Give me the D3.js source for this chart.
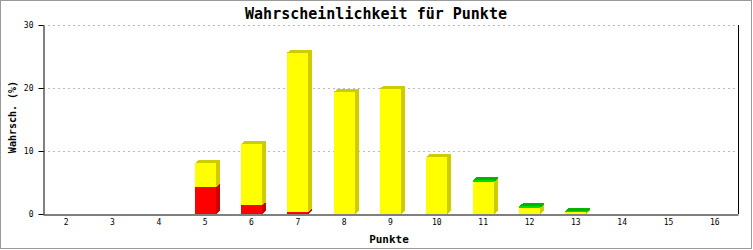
<!DOCTYPE html>
<html>
<head>
<meta charset="utf-8">
<script src="https://cdn.jsdelivr.net/npm/d3@7"></script>
<style>
  body { margin: 0; background: #fff; }
  svg { display: block; }
  text { font-family: "DejaVu Sans Mono", "Liberation Mono", monospace; }
</style>
</head>
<body>
<svg width="753" height="250"></svg>
<script>
const punkte = ["2", "3", "4", "5", "6", "7", "8", "9", "10", "11", "12", "13", "14", "15", "16"];
const rot = [0, 0, 0, 4.3, 1.4, 0.3, 0, 0, 0, 0, 0, 0, 0, 0, 0];
const gelb = [0, 0, 0, 3.8, 9.7, 25.3, 19.4, 19.9, 9.05, 5.1, 1.0, 0.25, 0, 0, 0];
const gruen = [0, 0, 0, 0, 0, 0, 0, 0, 0, 0.3, 0.25, 0.22, 0, 0, 0];
const yTicks = [0, 10, 20, 30];

const series = [
    { values: rot, front: "#ff0000", dark: "#cc0000" },
    { values: gelb, front: "#ffff00", dark: "#cccc00" },
    { values: gruen, front: "#00dd00", dark: "#00b400" }
];

const svg = d3.select("svg");
const plotL = 43, plotR = 738, plotT = 25, plotB = 214;

svg.append("rect")
   .attr("x", 0.5).attr("y", 0.5)
   .attr("width", 751).attr("height", 248)
   .attr("fill", "none")
   .attr("stroke", "#9a9a9a");

const x = d3.scaleBand().domain(punkte).range([plotL, plotR]).padding(0);
const y = d3.scaleLinear().domain([0, 30]).range([plotB, plotT]);

// grid
svg.append("g").selectAll("line")
   .data(yTicks.filter(t => t > 0))
   .join("line")
   .attr("x1", plotL).attr("x2", plotR)
   .attr("y1", d => Math.round(y(d)) + 0.5)
   .attr("y2", d => Math.round(y(d)) + 0.5)
   .attr("stroke", "#bbbbbb")
   .attr("stroke-dasharray", "2,3");

// stacked 3d bars
const barW = 21, dx = 4, dy = 3;
const bars = svg.append("g").attr("shape-rendering", "crispEdges");

punkte.forEach((p, i) => {
    let base = 0;
    const x0 = Math.round(x(p) + x.bandwidth() / 2 - barW / 2);
    const x1 = x0 + barW;
    series.forEach(s => {
        const v = s.values[i];
        if (v <= 0) return;
        const y0 = y(base), y1 = y(base + v);
        base += v;
        // side face
        bars.append("polygon")
            .attr("points", [[x1, y0], [x1 + dx, y0 - dy], [x1 + dx, y1 - dy], [x1, y1]].join(" "))
            .attr("fill", s.dark);
        // top face
        bars.append("polygon")
            .attr("points", [[x0, y1], [x0 + dx, y1 - dy], [x1 + dx, y1 - dy], [x1, y1]].join(" "))
            .attr("fill", s.dark);
        // front
        bars.append("rect")
            .attr("x", x0).attr("y", y1)
            .attr("width", barW).attr("height", y0 - y1)
            .attr("fill", s.front);
    });
});

// axes
const yAxis = svg.append("g")
   .attr("transform", `translate(${plotL + 0.5},0)`)
   .call(d3.axisLeft(y).tickValues(yTicks).tickSize(5).tickPadding(5).tickSizeOuter(0));
yAxis.selectAll("text").attr("font-size", 8).attr("font-family", "DejaVu Sans Mono");

const xAxis = svg.append("g")
   .attr("transform", `translate(0,${plotB + 0.5})`)
   .call(d3.axisBottom(x).tickSize(0).tickPadding(5).tickSizeOuter(0));
xAxis.selectAll("text").attr("font-size", 8).attr("font-family", "DejaVu Sans Mono");

svg.selectAll(".domain").attr("stroke", "#000").attr("stroke-width", 1);
svg.selectAll(".tick line").attr("stroke", "#000");

svg.append("line")
   .attr("x1", plotR + 0.5).attr("x2", plotR + 0.5)
   .attr("y1", plotT).attr("y2", plotB)
   .attr("stroke", "#000");

// texts
svg.append("text")
   .attr("x", 376).attr("y", 19)
   .attr("text-anchor", "middle")
   .attr("font-size", 15).attr("font-weight", "bold")
   .text("Wahrscheinlichkeit für Punkte");

svg.append("text")
   .attr("transform", "translate(16,117) rotate(-90)")
   .attr("text-anchor", "middle")
   .attr("font-size", 10).attr("font-weight", "bold")
   .text("Wahrsch. (%)");

svg.append("text")
   .attr("x", 389).attr("y", 243)
   .attr("text-anchor", "middle")
   .attr("font-size", 11).attr("font-weight", "bold")
   .text("Punkte");
</script>
</body>
</html>
